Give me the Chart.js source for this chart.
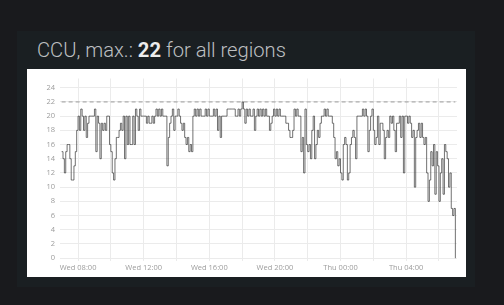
<!DOCTYPE html>
<html>
<head>
<meta charset="utf-8">
<script src="https://cdn.jsdelivr.net/npm/chart.js@4"></script>
<style>
  html, body { margin:0; padding:0; background:#191a1d; }
  body { width:504px; height:305px; position:relative; overflow:hidden; }
  .panel { position:absolute; left:17px; top:31px; width:458px; height:256px; background:#1a1f22; }
  .title { position:absolute; left:20px; top:7px; font-family:Roboto, sans-serif; font-weight:300; font-size:20.2px; color:#bdbfc1; white-space:nowrap; }
  .title b { font-weight:700; color:#ececec; }
  .plot { position:absolute; left:10px; top:38px; width:439px; height:208px; background:#fff; }
</style>
</head>
<body>
<div class="panel">
  <div class="title">CCU, max.: <b id="maxv">22</b> for all regions</div>
  <div class="plot"><canvas id="c" width="439" height="208"></canvas></div>
</div>
<script>
// samples every 5 minutes, starting Wed 07:00 (hours counted from Wed 00:00)
const startHour = 7;
const stepMinutes = 5;
const ccu = [
  15,14,12,15,16,16,14,11,11,13,15,18,   // 07
  20,18,21,20,18,20,17,19,20,20,20,20,   // 08
  21,15,20,19,14,19,18,19,18,20,20,16,   // 09
  15,12,11,14,17,17,18,19,18,20,14,20,   // 10
  16,20,16,16,20,16,21,20,18,21,20,20,   // 11
  20,20,19,20,19,19,20,19,20,21,20,21,   // 12
  20,21,20,20,20,13,17,19,20,21,18,20,   // 13
  20,21,20,19,18,19,17,16,17,15,16,15,   // 14
  20,21,20,21,20,21,20,20,20,21,20,21,   // 15
  20,20,20,21,20,21,18,20,17,20,20,20,   // 16
  20,21,21,21,21,21,21,20,20,21,20,21,   // 17
  22,21,19,21,20,21,20,20,21,18,20,21,   // 18
  20,21,20,21,20,21,20,20,18,19,20,21,   // 19
  20,21,20,21,20,20,20,20,19,19,18,17,   // 20
  17,18,21,20,21,20,20,15,17,12,21,16,   // 21
  15,16,14,18,20,14,16,18,17,19,20,20,   // 22
  21,20,21,20,20,20,19,17,14,15,13,14,   // 23
  12,11,16,17,16,11,12,16,17,18,17,14,   // 00
  20,20,20,20,21,20,21,20,15,18,20,21,   // 01
  18,16,17,20,16,19,19,18,14,17,18,17,   // 02
  20,19,20,18,15,19,19,20,17,20,12,20,   // 03
  20,19,20,19,17,18,10,17,18,19,17,19,   // 04
  17,16,17,12,8,11,15,13,16,9,15,13,     // 05
  8,12,14,9,16,15,14,10,12,7,6,7,        // 06
  0                                      // Thu 07:00
];
const yTicks = [0,2,4,6,8,10,12,14,16,18,20,22,24];
const xGridHours = [8,10,12,14,16,18,20,22,24,26,28,30];
const xLabelHours = [8,12,16,20,24,28];
const xLabelText = ['Wed 08:00','Wed 12:00','Wed 16:00','Wed 20:00','Thu 00:00','Thu 04:00'];

const points = ccu.map((v,i)=>({x: startHour + i*stepMinutes/60, y: v}));
const maxCCU = Math.max(...ccu);
document.getElementById('maxv').textContent = maxCCU;
const first = points[0].x, last = points[points.length-1].x;

const tickFont = { family:'"Open Sans", sans-serif', size:7.5 };

new Chart(document.getElementById('c').getContext('2d'), {
  type:'line',
  data:{ datasets:[
    { data: points, stepped:true, borderColor:'#333333', borderWidth:0.7, pointRadius:0, fill:false },
    { data: [{x:first, y:maxCCU},{x:last, y:maxCCU}], borderColor:'#9a9a9a', borderWidth:1, borderDash:[4,3], pointRadius:0 }
  ]},
  options:{
    responsive:false, animation:false, events:[],
    layout:{ padding:{ top:9, right:9, left:0, bottom:0 } },
    plugins:{ legend:{display:false}, tooltip:{enabled:false} },
    scales:{
      x:{
        type:'linear', min:6.9, max:31.1,
        afterFit: s => { s.height = 16; },
        afterBuildTicks: s => { s.ticks = xGridHours.map(v=>({value:v})); },
        grid:{ color:'#ebebeb', lineWidth:1, drawTicks:false },
        border:{ display:false },
        ticks:{ color:'#9c9c9c', font:tickFont, padding:2, maxRotation:0, autoSkip:false,
          callback: v => { const k = xLabelHours.indexOf(v); return k < 0 ? '' : xLabelText[k]; } }
      },
      y:{
        min:-0.4, max:25.3,
        afterFit: s => { s.width = 33; },
        afterBuildTicks: s => { s.ticks = yTicks.map(v=>({value:v})); },
        grid:{ color:'#ebebeb', lineWidth:1, drawTicks:false },
        border:{ display:false },
        ticks:{ color:'#9c9c9c', font:tickFont, padding:5 }
      }
    }
  }
});
</script>
</body>
</html>
